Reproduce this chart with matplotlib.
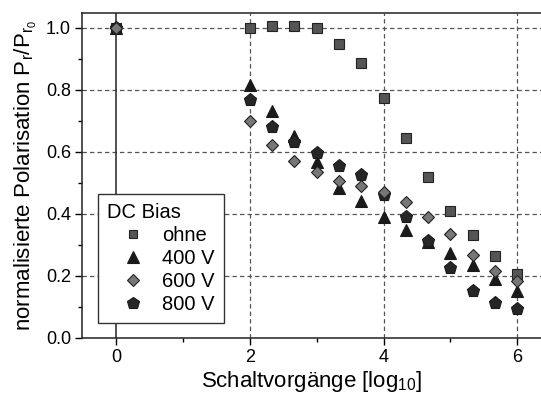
import matplotlib

matplotlib.use("Agg")
import matplotlib.pyplot as plt
from matplotlib.ticker import MultipleLocator, FormatStrFormatter
import matplotlib.lines as mlines

plt.rcParams["font.family"] = ["Liberation Sans", "DejaVu Sans"]
plt.rcParams["mathtext.fontset"] = "custom"
plt.rcParams["mathtext.rm"] = "Liberation Sans"
plt.rcParams["mathtext.it"] = "Liberation Sans"

# switching cycles, log10
x_cycles = [0, 2, 2.333, 2.667, 3, 3.333, 3.667, 4, 4.333, 4.667, 5, 5.333, 5.667, 6]

pol_ohne = [1.0, 1.0, 1.005, 1.005, 1.0, 0.947, 0.886, 0.775, 0.645, 0.52, 0.41, 0.332, 0.263, 0.205]
pol_400 = [1.0, 0.816, 0.732, 0.65, 0.568, 0.483, 0.442, 0.389, 0.348, 0.31, 0.275, 0.235, 0.19, 0.15]
pol_600 = [1.0, 0.70, 0.623, 0.571, 0.536, 0.506, 0.49, 0.472, 0.439, 0.39, 0.335, 0.268, 0.217, 0.185]
pol_800 = [1.0, 0.768, 0.682, 0.633, 0.596, 0.555, 0.526, 0.461, 0.391, 0.313, 0.227, 0.15, 0.114, 0.093]

labels = ["ohne", "400 V", "600 V", "800 V"]

fig = plt.figure(figsize=(5.41, 3.99), dpi=100)
ax = fig.add_axes([82 / 541, 61 / 399, 1 - 82 / 541 + 0.002, (338 - 13) / 399])

ax.set_xlim(-0.51, 6.37)
ax.set_ylim(0, 1.048)

grid_kw = dict(color="#555555", lw=0.9, ls=(0, (3.5, 2.5)), zorder=1)
for gy in [0.2, 0.4, 0.6, 0.8, 1.0]:
    ax.axhline(gy, **grid_kw)
for gx in [2, 4, 6]:
    ax.axvline(gx, **grid_kw)
ax.axvline(0, color="#333333", lw=1.2, zorder=1)

sq = dict(marker="s", ms=6.8, mfc="#555555", mec="#222222", mew=0.8, ls="none")
tri = dict(marker="^", ms=9, mfc="#1a1a1a", mec="#1a1a1a", mew=0.8, ls="none")
dia = dict(marker="D", ms=6.4, mfc="#777777", mec="#222222", mew=0.8, ls="none")
pent = dict(marker="p", ms=9.5, mfc="#262626", mec="#1a1a1a", mew=0.8, ls="none")

ax.plot(x_cycles, pol_ohne, zorder=3, **sq)
ax.plot(x_cycles, pol_400, zorder=4, **tri)
ax.plot(x_cycles, pol_800, zorder=5, **pent)
ax.plot(x_cycles, pol_600, zorder=6, **dia)

ax.xaxis.set_major_locator(MultipleLocator(2))
ax.xaxis.set_minor_locator(MultipleLocator(1))
ax.yaxis.set_major_locator(MultipleLocator(0.2))
ax.yaxis.set_minor_locator(MultipleLocator(0.1))
ax.yaxis.set_major_formatter(FormatStrFormatter("%.1f"))
ax.tick_params(which="major", direction="out", length=5, width=1, labelsize=13, pad=3)
ax.tick_params(which="minor", direction="out", length=3, width=1)
ax.spines["right"].set_visible(False)
for s in ["left", "bottom", "top"]:
    ax.spines[s].set_linewidth(1.1)
    ax.spines[s].set_color("#222222")

ax.set_xlabel("Schaltvorgänge [log$_{10}$]", fontsize=16, labelpad=2)
ax.set_ylabel("normalisierte Polarisation P$_\\mathrm{r}$/P$_{\\mathrm{r}_0}$", fontsize=16, labelpad=5)

handles = [
    mlines.Line2D([], [], **{**sq, "ms": 6}),
    mlines.Line2D([], [], **{**tri, "ms": 8.5}),
    mlines.Line2D([], [], **{**dia, "ms": 6}),
    mlines.Line2D([], [], **{**pent, "ms": 9}),
]
leg = ax.legend(
    handles, labels, title="DC Bias", loc="lower left",
    bbox_to_anchor=((98 - 82) / 459, (338 - 323) / 325), borderaxespad=0,
    fontsize=14.5, title_fontsize=14.5,
    frameon=True, fancybox=False, framealpha=1.0, edgecolor="#333333",
    handlelength=2.55, handletextpad=0.2, labelspacing=0.2, borderpad=0.45,
    alignment="left",
)
leg.get_frame().set_linewidth(1.0)
leg.set_zorder(10)

fig.savefig("out.png", dpi=100, facecolor="white")
